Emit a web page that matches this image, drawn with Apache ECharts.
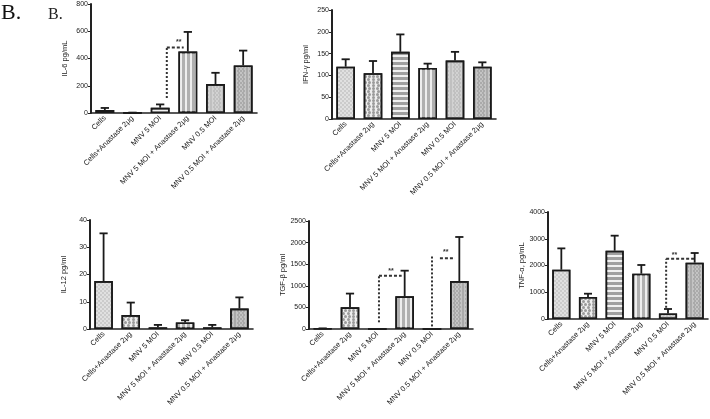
<!DOCTYPE html>
<html><head><meta charset="utf-8">
<script src="https://cdn.jsdelivr.net/npm/echarts@6/dist/echarts.min.js"></script>
<style>html,body{margin:0;padding:0;background:#fff}#c{width:710px;height:419px}</style>
</head><body><div id="c"></div>
<script>
const categories = ['Cells','Cells+Anastase 2μg','MNV 5 MOI','MNV 5 MOI + Anastase 2μg','MNV 0.5 MOI','MNV 0.5 MOI + Anastase 2μg'];
const il6Mean  = [22, 2, 39, 451, 212, 349];
const il6Err   = [37, 3, 63, 595, 295, 458];
const ifnMean  = [120, 105, 154, 117, 134, 120];
const ifnErr   = [137, 133, 194, 127, 154, 130];
const il12Mean = [17.6, 5.1, 0.6, 2.4, 0.6, 7.5];
const il12Err  = [35.1, 9.7, 1.5, 3.2, 1.5, 11.6];
const tgfMean  = [12, 502, 0, 756, 0, 1110];
const tgfErr   = [15, 820, null, 1350, null, 2130];
const tnfMean  = [1843, 822, 2553, 1694, 210, 2106];
const tnfErr   = [2640, 946, 3115, 2019, 374, 2467];
const il6Ticks  = [0, 800, 200];
const ifnTicks  = [0, 250, 50];
const il12Ticks = [0, 40, 10];
const tgfTicks  = [0, 2500, 500];
const tnfTicks  = [0, 4000, 1000];
// significance: [vertical x (category units), low, high, horiz x1, horiz x2, horiz level, star x, star y]
const il6Sig = [[2.24, 110, 480, 2.24, 2.85, 480, 2.67, 522]];
const tgfSig = [[2.06, 155, 1230, 2.06, 2.89, 1230, 2.5, 1350],
                [4.0, 60, 1680, 4.29, 4.84, 1635, 4.5, 1782]];
const tnfSig = [[3.93, 420, 2250, 3.93, 5.0, 2250, 4.24, 2400]];

const panels = [
  {name:'IL-6 pg/mL', mean:il6Mean, err:il6Err, ticks:il6Ticks, sig:il6Sig},
  {name:'IFN-γ pg/ml', mean:ifnMean, err:ifnErr, ticks:ifnTicks, sig:[]},
  {name:'IL-12 pg/ml', mean:il12Mean, err:il12Err, ticks:il12Ticks, sig:[]},
  {name:'TGF-β pg/ml', mean:tgfMean, err:tgfErr, ticks:tgfTicks, sig:tgfSig},
  {name:'TNF-α, pg/mL', mean:tnfMean, err:tnfErr, ticks:tnfTicks, sig:tnfSig}
];
const grids = [
  {left:91, top:4, width:166, height:109},
  {left:332, top:10, width:164, height:109},
  {left:90, top:220, width:163, height:109},
  {left:309, top:221, width:164, height:108},
  {left:548, top:212, width:160, height:107}
];
const patterns = [
  {color:'#e0e0e0', decal:{symbol:'circle', symbolSize:0.7, color:'rgba(120,120,120,0.55)', dashArrayX:[[2,2],[0,2,2,0]], dashArrayY:[2,0]}},
  {color:'#eeeeee', decal:{symbol:'circle', symbolSize:1, color:'rgba(100,100,100,0.6)', dashArrayX:[[3,1],[0,2,3,0]], dashArrayY:[3,0]}},
  {color:'#a0a0a0', decal:{symbol:'rect', symbolSize:1, color:'rgba(255,255,255,0.85)', dashArrayX:[1,0], dashArrayY:[1.5,3]}},
  {color:'#b0b0b0', decal:{symbol:'rect', symbolSize:1, color:'rgba(245,245,245,0.9)', dashArrayX:[2,2.5], dashArrayY:[1,0]}},
  {color:'#d2d2d2', decal:{symbol:'circle', symbolSize:0.8, color:'rgba(140,140,140,0.6)', dashArrayX:[[2,1],[0,1.5,2,0]], dashArrayY:[2,0]}},
  {color:'#c4c4c4', decal:{symbol:'circle', symbolSize:0.8, color:'rgba(100,100,100,0.6)', dashArrayX:[[2,1],[0,1.5,2,0]], dashArrayY:[2,0]}}
];
const FONT = 'Liberation Sans, Arial, sans-serif';
const xAxes = [], yAxes = [], series = [];
panels.forEach((p, k) => {
  xAxes.push({type:'category', gridIndex:k, data:categories,
    axisLine:{lineStyle:{color:'#222', width:1.6}},
    axisTick:{alignWithLabel:true, length:3, lineStyle:{color:'#222', width:1}},
    axisLabel:{interval:0, rotate:45, fontSize:7.5, color:'#222', margin:4, fontFamily:FONT}});
  yAxes.push({type:'value', gridIndex:k, min:p.ticks[0], max:p.ticks[1], interval:p.ticks[2],
    name:p.name, nameLocation:'middle', nameGap:22, nameRotate:90,
    nameTextStyle:{fontSize:7.5, color:'#222', fontFamily:FONT},
    splitLine:{show:false},
    axisLine:{show:true, lineStyle:{color:'#222', width:2}},
    axisTick:{show:true, length:3, lineStyle:{color:'#222', width:1}},
    axisLabel:{fontSize:7, color:'#222', margin:3, fontFamily:FONT, formatter:v => String(v)}});
  series.push({type:'bar', xAxisIndex:k, yAxisIndex:k, barWidth:'68%', z:2,
    data:p.mean.map((v, i) => ({value:v, itemStyle:{color:patterns[i].color, decal:patterns[i].decal, borderColor:'#1a1a1a', borderWidth:1.6}})),
    silent:true});
  series.push({type:'custom', xAxisIndex:k, yAxisIndex:k, z:3, silent:true,
    encode:{x:0, y:[1,2]},
    data:p.mean.map((v, i) => [i, v, p.err[i] == null ? v : p.err[i]]),
    renderItem:(params, api) => {
      const i = api.value(0), m = api.value(1), e = api.value(2);
      if (!(e > m)) return;
      const p0 = api.coord([i, m]), p1 = api.coord([i, e]);
      const hw = api.size([1, 0])[0] * 0.15;
      const st = {stroke:'#1a1a1a', lineWidth:1.8};
      return {type:'group', children:[
        {type:'line', shape:{x1:p0[0], y1:p0[1], x2:p1[0], y2:p1[1]}, style:st},
        {type:'line', shape:{x1:p1[0]-hw, y1:p1[1], x2:p1[0]+hw, y2:p1[1]}, style:st}
      ]};
    }});
  if (p.sig.length) {
    series.push({type:'custom', xAxisIndex:k, yAxisIndex:k, z:4, silent:true,
      encode:{x:0, y:2},
      data:p.sig,
      renderItem:(params, api) => {
        const bw = api.size([1, 0])[0];
        const c = (x, y) => { const b = api.coord([0, y]); return [b[0] + x * bw, b[1]]; };
        const v = n => api.value(n);
        const a = c(v(0), v(1)), b = c(v(0), v(2));
        const h1 = c(v(3), v(5)), h2 = c(v(4), v(5));
        const s = c(v(6), v(7));
        return {type:'group', children:[
          {type:'line', shape:{x1:a[0], y1:a[1], x2:b[0], y2:b[1]}, style:{stroke:'#333', lineWidth:2, lineDash:[2,2]}},
          {type:'line', shape:{x1:h1[0], y1:h1[1], x2:h2[0], y2:h2[1]}, style:{stroke:'#333', lineWidth:2, lineDash:[3,2]}},
          {type:'text', x:s[0], y:s[1], style:{text:'**', fontSize:7, fontWeight:'bold', fill:'#333', align:'center', verticalAlign:'middle', fontFamily:FONT}}
        ]};
      }});
  }
});
const chart = echarts.init(document.getElementById('c'), null, {renderer:'canvas'});
chart.setOption({
  animation:false,
  backgroundColor:'#fff',
  grid:grids,
  xAxis:xAxes,
  yAxis:yAxes,
  series:series,
  graphic:[
    {type:'text', left:1, top:2, style:{text:'B.', fontSize:22, fill:'#111', fontFamily:'Liberation Serif, Times New Roman, serif'}},
    {type:'text', left:48, top:7, style:{text:'B.', fontSize:16, fill:'#222', fontFamily:'Liberation Serif, Times New Roman, serif'}}
  ]
});
</script></body></html>
